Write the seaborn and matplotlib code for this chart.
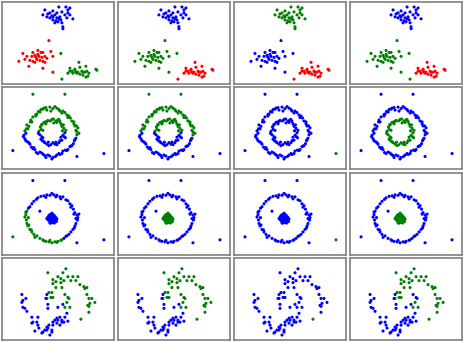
import pandas as pd
import matplotlib
matplotlib.use("Agg")
import matplotlib.pyplot as plt
import seaborn as sns

# point positions in panel units (x to the right, y downwards)
# colour strings give the cluster colour in each of the 4 columns (b=blue, g=green, r=red)

# ---- row 1: three blobs
blob_top = [(59, 7), (66, 7), (70, 8), (45, 10), (53, 11), (62, 12), (68, 13), (43, 15), (48, 14),
            (52, 16), (55, 15), (57, 18), (60, 17), (65, 15), (67, 18), (73, 19), (50, 18), (53, 20),
            (58, 22), (62, 23), (55, 23), (63, 27), (63, 29), (47, 17), (70, 15), (57, 13), (50, 13),
            (59, 19), (68, 10), (53, 17), (61, 20), (56, 21)]
blob_left = [(49, 41), (23, 54), (33, 53), (38, 51), (41, 53), (43, 53), (51, 52), (27, 57), (32, 57),
             (35, 56), (39, 57), (42, 58), (45, 57), (53, 57), (19, 62), (25, 60), (30, 61), (33, 62),
             (37, 60), (40, 61), (43, 62), (35, 63), (45, 63), (29, 67), (43, 69), (53, 73), (38, 55),
             (36, 58), (47, 59)]
blob_right = [(79, 63), (70, 69), (75, 70), (80, 68), (86, 67), (72, 72), (76, 73), (78, 73), (82, 72),
              (85, 73), (87, 72), (68, 74), (73, 74), (80, 75), (83, 76), (88, 77), (86, 78), (96, 70),
              (97, 71), (75, 71), (77, 74), (83, 73), (70, 72), (89, 74)]
blob_mid = [(61, 54)]
blob_low = [(62, 80)]

# ---- row 2: two rings with outliers
ring_out_top = [(43, 24), (50, 22), (53, 23.5), (57, 23), (60, 26), (63, 26), (67, 30), (69, 31), (72, 36),
                (74, 37), (75, 41), (78, 43), (77, 47), (25, 46), (28, 44), (27, 40), (32, 37), (33, 32),
                (36, 31), (37, 29), (40, 27), (47, 25), (44, 23), (51, 26), (55, 21.5), (59, 24.5), (62, 28),
                (65, 27.5), (68, 32.5), (70.5, 33), (74, 39), (76.5, 41), (76, 45.5), (26.5, 44), (29, 41.5),
                (30.5, 37), (31, 35), (36, 29.5), (38.5, 26.5), (41, 24.5), (46, 22.5), (77, 50), (79, 48.5)]
ring_out_bot = [(76, 53.5), (74.5, 56), (72, 61), (70, 62), (67, 66), (63, 66.5), (60, 70), (57, 70.5),
                (53, 73), (52, 74.5), (48, 70.5), (45, 71), (42, 68.5), (38, 69), (35, 65), (33, 64),
                (30, 59.5), (27.5, 57), (25, 54), (24, 50.5), (75, 55), (73.5, 59), (71, 61.5), (68, 65),
                (65.5, 65.5), (62, 69), (59, 69), (55.5, 72), (50, 71.5), (46, 73), (43.5, 70), (40, 67.5),
                (36.5, 68), (34, 63), (31.5, 62.5), (29, 58), (26, 56), (23.5, 52), (26, 48.5)]
ring_in_top = [(52, 34.5), (56, 36), (60, 36.5), (63.5, 40), (64, 43.5), (39, 46.5), (40.5, 42),
               (42, 39.5), (45.5, 37), (48, 35.5), (54, 38), (58, 35), (61, 39), (62, 41.5), (66, 45.5),
               (41, 44.5), (42, 40), (44, 37.5), (47, 36.5), (50.5, 36), (57, 37.5), (62.5, 46),
               (43, 45.5), (46, 39), (53.5, 34), (59, 34.5)]
ring_in_bot = [(65, 48), (64.5, 52), (62, 55.5), (59, 58), (55, 59.5), (51, 60), (47, 59.5), (44, 57),
               (41, 54.5), (40, 50), (63, 50.5), (65.5, 53), (60, 56), (57, 60), (53, 58), (49, 61),
               (45, 58), (42.5, 56), (42, 52), (38.5, 48.5), (61, 52.5), (56, 57.5), (48.5, 57.5), (43, 53)]
ring_noise_top = [(33, 9), (65, 9)]
ring_noise_low = [(13, 66), (77, 72)]
ring_noise_right = [(104, 69)]

# ---- row 3: ring around a dense core
core_ring_rest = [(32, 33.5), (34, 31), (36.5, 29), (38, 27.5), (41, 26), (44, 25.5), (47, 24.5),
                  (50, 25), (52, 23), (54, 24.5), (57, 25), (60, 26.5), (63, 26.5), (66, 29.5), (68, 30.5),
                  (70, 33.5), (72, 35.5), (73.5, 39), (75, 42.5), (77, 45), (78, 47.5), (77.5, 50),
                  (76, 53.5), (75, 56), (73, 59.5), (71, 62), (69, 64.5), (66, 66.5), (64, 68.5),
                  (30, 36.5), (28.5, 38), (46, 27), (56, 26.5), (61, 28.5), (71, 37), (74, 44), (79, 44),
                  (76, 48.5), (74.5, 58), (67, 66)]
core_ring_arc = [(27, 41), (26, 44.5), (25, 47), (26.5, 50), (27, 53.5), (28, 56), (30, 59.5), (32, 62),
                 (34, 64.5), (37, 66), (40, 68.5), (43, 70), (46, 71.5), (49, 72), (52, 73), (55, 72),
                 (58, 71.5), (61, 70.5), (28.5, 47.5), (29, 55), (31.5, 60), (35, 67.5), (44, 71),
                 (50, 70.5), (57, 72.5), (26, 42), (62, 70)]
core_blob = [(50, 44.5), (52.5, 44), (54, 45), (49, 45.5), (51, 46), (53.5, 46), (55, 46.5), (48, 47),
             (50.5, 47), (52, 47.5), (54, 47), (56, 47.5), (49, 48.5), (51, 48), (53, 48.5), (55.5, 48),
             (57, 49), (48, 49.5), (50, 49), (52.5, 49.5), (54, 49), (56, 50), (49, 50.5), (51.5, 50),
             (53, 51), (55, 50.5), (50, 51.5), (52, 52), (54, 51.5), (51, 53), (53, 52.5), (52, 43),
             (47, 48.5), (56.5, 51.5), (50, 53), (54.5, 53)]
core_noise = [(33, 10), (65, 10), (77, 73), (40, 41)]
core_noise_left = [(13, 67)]
core_noise_right = [(104, 70)]

# ---- row 4: two moons
moon_up = [(48, 17), (66, 13), (63, 17), (53, 24), (56, 26), (61, 23), (58, 21), (64, 25), (68, 21),
           (73, 21), (78, 21), (76, 25), (71, 25), (61, 27), (53, 28), (62, 32), (56, 32), (80, 29),
           (84, 31), (87, 32), (85, 33), (87, 39), (89, 43), (92, 43), (95, 47), (90, 48), (88, 50),
           (89, 51), (89, 57), (49, 37), (52, 37), (47, 43), (51, 42), (53, 42), (70, 52), (65, 52), (67, 47)]
moon_join = [(65, 39), (68, 42), (69, 43)]
moon_stray = [(81, 64)]
moon_low = [(22, 39), (26, 43), (23, 45), (22, 47), (23, 52), (25, 53), (27, 56), (47, 39), (46, 43),
            (48, 49), (48, 53), (58, 52), (63, 49), (67, 58), (65, 62), (64, 67), (68, 66), (62, 67),
            (58, 65), (57, 68), (53, 67), (53, 70), (49, 70), (47, 72), (47, 75), (43, 77), (42, 78),
            (50, 80), (52, 77), (39, 73), (38, 70), (37, 67), (35, 76), (32, 62), (38, 62), (33, 67),
            (32, 68), (60, 62), (62, 65), (55, 65), (52, 75), (48, 73), (45, 75), (60, 70), (57, 63)]

rows = [
    [(blob_top, "bbgb"), (blob_left, "rgbg"), (blob_right, "grrr"), (blob_mid, "ggbg"), (blob_low, "grrg")],
    [(ring_out_top, "ggbb"), (ring_out_bot, "bbbb"), (ring_in_top, "ggbg"), (ring_in_bot, "bbbg"),
     (ring_noise_top, "ggbb"), (ring_noise_low, "bbbb"), (ring_noise_right, "bbgb")],
    [(core_ring_rest, "bbbb"), (core_ring_arc, "gbbb"), (core_blob, "bgbg"), (core_noise, "bbbb"),
     (core_noise_left, "gbbb"), (core_noise_right, "bbgb")],
    [(moon_up, "ggbg"), (moon_join, "ggbb"), (moon_stray, "gggg"), (moon_low, "bbbb")],
]

palette = {"b": "#0000ff", "g": "#008000", "r": "#ff0000"}


def make_frame(groups):
    recs = []
    for pts, cols in groups:
        for x, y in pts:
            recs.append({"x": x, "y": y, "c0": cols[0], "c1": cols[1], "c2": cols[2], "c3": cols[3]})
    return pd.DataFrame(recs)


sns.set_style("white")
fig, axes = plt.subplots(4, 4, figsize=(4.63, 3.42), dpi=100)
fig.subplots_adjust(left=0.004, right=0.998, bottom=0.006, top=0.994, wspace=0.036, hspace=0.04)

for r, groups in enumerate(rows):
    df = make_frame(groups)
    for c in range(4):
        ax = axes[r, c]
        sns.scatterplot(data=df, x="x", y="y", hue="c%d" % c, palette=palette, s=5,
                        linewidth=0, legend=False, ax=ax)
        ax.set_xlim(2, 114)
        ax.set_ylim(85, 2)
        ax.set_xticks([])
        ax.set_yticks([])
        ax.set_xlabel("")
        ax.set_ylabel("")
        for sp in ax.spines.values():
            sp.set_visible(True)
            sp.set_color("#808080")
            sp.set_linewidth(1.2)

fig.savefig("out.png", dpi=100)
